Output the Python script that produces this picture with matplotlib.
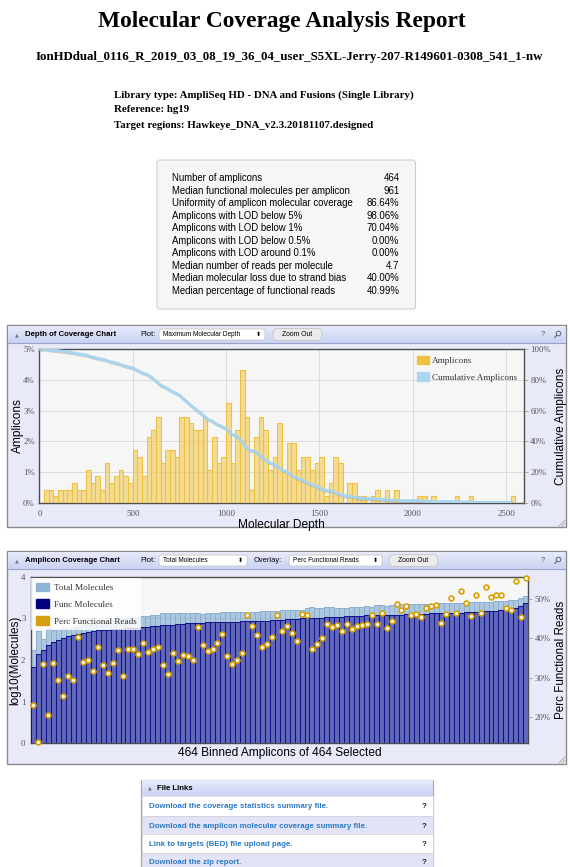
import numpy as np
import matplotlib.pyplot as plt
import matplotlib.patheffects as pe
from matplotlib.colors import LinearSegmentedColormap
from matplotlib.patches import Rectangle, FancyBboxPatch, Circle, Patch

W, H = 570, 867
SERIF = 'Liberation Serif'
SANS = 'Liberation Sans'

# ---------------- data ----------------
title = "Molecular Coverage Analysis Report"
run_name = "IonHDdual_0116_R_2019_03_08_19_36_04_user_S5XL-Jerry-207-R149601-0308_541_1-nw"
info_lines = ["Library type: AmpliSeq HD - DNA and Fusions (Single Library)",
              "Reference: hg19",
              "Target regions: Hawkeye_DNA_v2.3.20181107.designed"]

stat_labels = ["Number of amplicons",
               "Median functional molecules per amplicon",
               "Uniformity of amplicon molecular coverage",
               "Amplicons with LOD below 5%",
               "Amplicons with LOD below 1%",
               "Amplicons with LOD below 0.5%",
               "Amplicons with LOD around 0.1%",
               "Median number of reads per molecule",
               "Median molecular loss due to strand bias",
               "Median percentage of functional reads"]
stat_values = ["464", "961", "86.64%", "98.06%", "70.04%", "0.00%", "0.00%",
               "4.7", "40.00%", "40.99%"]

n_amplicons = 464
depth_bin = 25
# amplicons per 25-molecule depth bin, starting at depth 0
depth_counts = [0, 2, 2, 1, 2, 2, 2, 3, 2, 2,
                5, 3, 4, 2, 6, 3, 4, 5, 4, 3,
                8, 7, 4, 10, 11, 13, 6, 8, 8, 7,
                13, 13, 12, 11, 11, 13, 5, 10, 6, 7,
                15, 6, 11, 20, 13, 2, 10, 13, 11, 5,
                7, 12, 5, 9, 9, 5, 7, 7, 5, 6,
                7, 1, 3, 7, 6, 0, 3, 3, 1, 1,
                0, 1, 2, 0, 2, 0, 2, 0, 0, 0,
                0, 1, 1, 0, 1, 0, 0, 0, 0, 1,
                0, 0, 1, 0, 0, 0, 0, 0, 0, 0,
                0, 1]
depth_xticks = [0, 500, 1000, 1500, 2000, 2500]

# amplicon coverage chart: 100 bins of amplicons sorted by functional molecules
total_log = [2.25, 2.69, 2.51, 2.77, 2.73, 2.75, 2.78, 2.75, 2.79, 2.82,
             2.85, 2.87, 2.89, 2.91, 2.93, 2.95, 2.96, 2.98, 2.99, 3.00,
             3.02, 3.03, 3.06, 3.05, 3.08, 3.09, 3.13, 3.12, 3.14, 3.12,
             3.13, 3.13, 3.12, 3.13, 3.11, 3.12, 3.12, 3.12, 3.15, 3.15,
             3.15, 3.15, 3.15, 3.14, 3.16, 3.16, 3.17, 3.18, 3.17, 3.18,
             3.20, 3.21, 3.21, 3.21, 3.19, 3.24, 3.27, 3.26, 3.26, 3.27,
             3.28, 3.26, 3.26, 3.26, 3.27, 3.28, 3.28, 3.29, 3.28, 3.31,
             3.31, 3.29, 3.31, 3.33, 3.34, 3.34, 3.35, 3.34, 3.35, 3.35,
             3.35, 3.36, 3.36, 3.37, 3.37, 3.38, 3.37, 3.38, 3.39, 3.39,
             3.39, 3.40, 3.40, 3.41, 3.41, 3.42, 3.43, 3.45, 3.50, 3.54]
func_log = [1.82, 2.14, 2.25, 2.37, 2.43, 2.49, 2.53, 2.57, 2.60, 2.63,
            2.66, 2.68, 2.70, 2.71, 2.72, 2.73, 2.74, 2.74, 2.75, 2.76,
            2.77, 2.78, 2.79, 2.80, 2.81, 2.82, 2.83, 2.84, 2.85, 2.86,
            2.87, 2.88, 2.89, 2.90, 2.90, 2.905, 2.91, 2.91, 2.915, 2.92,
            2.92, 2.92, 2.925, 2.93, 2.93, 2.935, 2.94, 2.94, 2.95, 2.96,
            2.97, 2.98, 2.99, 2.99, 3.00, 3.00, 3.01, 3.02, 3.02, 3.03,
            3.03, 3.04, 3.04, 3.05, 3.05, 3.06, 3.06, 3.07, 3.07, 3.08,
            3.08, 3.08, 3.09, 3.09, 3.09, 3.10, 3.10, 3.10, 3.11, 3.11,
            3.12, 3.12, 3.12, 3.13, 3.13, 3.14, 3.14, 3.15, 3.15, 3.16,
            3.16, 3.17, 3.17, 3.18, 3.19, 3.21, 3.23, 3.26, 3.30, 3.36]
perc_func = [22.9, 13.5, 33.4, 20.5, 33.7, 29.5, 25.2, 30.3, 29.5, 40.3,
             33.9, 34.5, 31.7, 37.9, 33.3, 31.2, 33.7, 37.0, 30.3, 37.4,
             37.4, 36.0, 38.8, 36.5, 37.2, 37.8, 33.3, 31.0, 36.2, 34.2,
             35.8, 35.5, 34.5, 43.0, 38.4, 36.8, 37.2, 38.8, 41.2, 35.6,
             33.4, 34.4, 36.3, 46.1, 43.1, 40.9, 37.9, 38.7, 40.5, 45.9,
             41.9, 43.1, 41.4, 39.4, 46.3, 45.9, 37.4, 38.6, 40.0, 43.6,
             43.0, 43.5, 41.9, 43.6, 42.4, 43.3, 43.5, 43.7, 45.9, 43.6,
             46.5, 42.6, 44.5, 48.8, 47.2, 48.3, 45.9, 46.2, 45.5, 47.7,
             48.2, 48.5, 44.0, 46.2, 50.3, 46.5, 52.2, 49.2, 45.7, 51.2,
             46.4, 53.2, 50.5, 51.2, 51.0, 47.9, 47.3, 54.6, 45.4, 55.5]

file_links = ["Download the coverage statistics summary file.",
              "Download the amplicon molecular coverage summary file.",
              "Link to targets (BED) file upload page.",
              "Download the zip report."]

# ---------------- helpers ----------------
fig = plt.figure(figsize=(W / 100, H / 100), dpi=100)
bg = fig.add_axes([0, 0, 1, 1])
bg.set_xlim(0, W)
bg.set_ylim(H, 0)
bg.axis('off')

head_cmap = LinearSegmentedColormap.from_list('head', ['#e6eafb', '#cbd3f3'])
grad = np.linspace(0, 1, 20).reshape(-1, 1)


def px_axes(x0, y0, x1, y1):
    return fig.add_axes([x0 / W, 1 - y1 / H, (x1 - x0) / W, (y1 - y0) / H])


def panel_header(y0, y1, x0=7, x1=566):
    bg.add_patch(Rectangle((x0, y0), x1 - x0, y1 - y0, fc='#e8e9f9', ec='#8a8a8a', lw=1.0))
    bg.imshow(grad, extent=[x0 + 1, x1 - 1, y0 + 18, y0 + 1], cmap=head_cmap, aspect='auto', zorder=2)
    bg.plot([x0 + 1, x1 - 1], [y0 + 18, y0 + 18], color='#9aa3c8', lw=0.8, zorder=3)
    yc = y0 + 9.5
    bg.text(17, yc, '\u25b2', fontsize=3.5, color='#777', ha='center', va='center', family='DejaVu Sans', zorder=4)
    bg.text(543, yc, '?', fontsize=5.5, color='#555', ha='center', va='center', family=SANS, zorder=4)
    bg.add_patch(Circle((558.5, yc - 1), 2.3, fill=False, ec='#666', lw=0.7, zorder=4))
    bg.plot([556.8, 554.8], [yc + 0.8, yc + 3], color='#666', lw=0.8, zorder=4)
    for d in (3, 6):
        bg.plot([x1 - 1 - d, x1 - 1], [y1 - 1, y1 - 1 - d], color='#999', lw=0.5, zorder=4)
    return yc


def dropdown(x0, x1, yc, label):
    bg.add_patch(FancyBboxPatch((x0, yc - 5.5), x1 - x0, 11, boxstyle='round,pad=0,rounding_size=2.5',
                                fc='white', ec='#c8c8c8', lw=0.6, zorder=4))
    bg.text(x0 + 4, yc, label, fontsize=4.7, family=SANS, va='center', ha='left', zorder=5)
    bg.text(x1 - 4, yc, '\u2b0d', fontsize=4.5, family=['DejaVu Sans'], va='center', ha='right', zorder=5)


def button(x0, x1, yc, label):
    bg.add_patch(FancyBboxPatch((x0, yc - 6), x1 - x0, 12, boxstyle='round,pad=0,rounding_size=5',
                                fc='#ebebeb', ec='#c4c4c4', lw=0.6, zorder=4))
    bg.text((x0 + x1) / 2, yc, label, fontsize=4.9, family=SANS, va='center', ha='center', zorder=5)


# ---------------- header text ----------------
bg.text(282, 22, title, fontsize=16.8, weight='bold', family=SERIF, ha='center', va='center')
bg.text(289, 57, run_name, fontsize=9.3, weight='bold', family=SERIF, ha='center', va='center')
for i, line in enumerate(info_lines):
    bg.text(114, 95 + 15 * i, line, fontsize=7.85, weight='bold', family=SERIF, ha='left', va='center')

# ---------------- stats box ----------------
bg.add_patch(FancyBboxPatch((157, 160), 258.5, 149, boxstyle='round,pad=0,rounding_size=3',
                            fc='#f6f6f6', ec='#cfcfcf', lw=0.8))
for i, (lab, val) in enumerate(zip(stat_labels, stat_values)):
    y = 178.3 + 12.5 * i
    bg.text(172.3, y, lab, fontsize=6.95, family=SANS, ha='left', va='center')
    bg.text(399.5, y, val, fontsize=6.95, family=SANS, ha='right', va='center')

# ---------------- depth of coverage chart ----------------
yc = panel_header(325, 527)
bg.text(25, yc, 'Depth of Coverage Chart', fontsize=5.6, weight='bold', family=SANS, va='center', zorder=5)
bg.text(140, yc, 'Plot:', fontsize=5.4, family=SANS, va='center', zorder=5)
dropdown(159, 265, yc, 'Maximum Molecular Depth')
button(273, 322, yc, 'Zoom Out')

counts = np.array(depth_counts)
starts = np.arange(len(counts)) * depth_bin
pct = counts / n_amplicons * 100
cum = (n_amplicons - np.concatenate([[0], np.cumsum(counts)[:-1]])) / n_amplicons * 100

ax = px_axes(39.5, 349, 524, 503)
ax.set_facecolor('#f6f6f6')
ax.bar(starts + depth_bin / 2, pct, width=depth_bin, color=(0.95, 0.78, 0.28, 0.55),
       edgecolor='#eec140', lw=0.8, zorder=3)
ax.set_xlim(0, 2596)
ax.set_ylim(0, 5)
ax.set_yticks(range(6))
ax.set_yticklabels([f'{v}%' for v in range(6)])
ax.set_xticks(depth_xticks)
ax.grid(True, color='#dcdcdc', lw=0.7, zorder=0)
ax.set_axisbelow(True)
ax.tick_params(axis='y', length=0, pad=3.5, labelsize=6.3, labelcolor='#555')
ax.tick_params(axis='x', length=0, pad=5, labelsize=6.3, labelcolor='#555')
for lab in ax.get_xticklabels() + ax.get_yticklabels():
    lab.set_family(SERIF)
for s in ax.spines.values():
    s.set_color('#4d4d4d')
    s.set_linewidth(1.0)
ax.set_xlabel('Molecular Depth', fontsize=8.6, family=SANS, labelpad=1)
ax.set_ylabel('Amplicons', fontsize=8.6, family=SANS, labelpad=-1)

ax2 = ax.twinx()
ax2.plot(starts, cum, color='#a9d4ef', lw=2.1, zorder=4,
         path_effects=[pe.SimpleLineShadow(offset=(0.8, -0.8), shadow_color='#777', alpha=0.35), pe.Normal()])
ax2.set_ylim(0, 100)
ax2.set_yticks(range(0, 101, 20))
ax2.set_yticklabels([f'{v}%' for v in range(0, 101, 20)])
ax2.tick_params(axis='y', length=3, width=0.6, color='#999', pad=1.5, labelsize=6.3, labelcolor='#555')
for lab in ax2.get_yticklabels():
    lab.set_family(SERIF)
for s in ax2.spines.values():
    s.set_visible(False)
ax2.set_ylabel('Cumulative Amplicons', fontsize=8.6, family=SANS, labelpad=3)
ax2.legend(handles=[Patch(fc='#f0c040', ec='#f0c040'), Patch(fc='#aad6f2', ec='#aad6f2')],
           labels=['Amplicons', 'Cumulative Amplicons'], loc='upper left',
           bbox_to_anchor=(413 / W, 1 - 352 / H), bbox_transform=fig.transFigure,
           frameon=False, prop={'family': SERIF, 'size': 6.6}, handlelength=1.3, handleheight=1.1,
           handletextpad=0.4, labelspacing=0.75, borderaxespad=0, labelcolor='#333')

# ---------------- amplicon coverage chart ----------------
yc = panel_header(551, 764)
bg.text(25, yc, 'Amplicon Coverage Chart', fontsize=5.6, weight='bold', family=SANS, va='center', zorder=5)
bg.text(140, yc, 'Plot:', fontsize=5.4, family=SANS, va='center', zorder=5)
dropdown(159, 247, yc, 'Total Molecules')
bg.text(254, yc, 'Overlay:', fontsize=5.4, family=SANS, va='center', zorder=5)
dropdown(289, 382, yc, 'Perc Functional Reads')
button(389, 438, yc, 'Zoom Out')

k = np.arange(len(func_log))
ax3 = px_axes(31, 576.7, 528.3, 743.3)
ax3.set_facecolor('#f6f6f6')
ax3.bar(k, total_log, width=1.0, color=(0.63, 0.75, 0.86, 0.85), edgecolor='#8aaed2', lw=0.7, zorder=2)
ax3.bar(k, func_log, width=1.0, color='#6168b8', edgecolor='#12128a', lw=0.75, zorder=3)
ax3.set_xlim(-0.5, len(k) - 0.5)
ax3.set_ylim(0, 4)
ax3.set_yticks(range(5))
ax3.set_xticks([])
ax3.grid(True, axis='y', color='#9a9a9a', lw=0.6, zorder=4)
ax3.tick_params(axis='y', length=0, pad=4, labelsize=6.3, labelcolor='#555')
for lab in ax3.get_yticklabels():
    lab.set_family(SERIF)
for s in ax3.spines.values():
    s.set_color('#4d4d4d')
    s.set_linewidth(1.0)
ax3.set_ylabel('log10(Molecules)', fontsize=8.4, family=SANS, labelpad=0)
ax3.set_xlabel('464 Binned Amplicons of 464 Selected', fontsize=8.6, family=SANS, labelpad=3)

ax4 = ax3.twinx()
ax4.scatter(k, perc_func, s=12, facecolor='white', edgecolor='#d9a000', lw=1.2, zorder=5, clip_on=False)
ax4.set_ylim(13.2, 55.8)
ax4.set_yticks([20, 30, 40, 50])
ax4.set_yticklabels(['20%', '30%', '40%', '50%'])
ax4.tick_params(axis='y', length=3, width=0.6, color='#999', pad=1.5, labelsize=6.3, labelcolor='#555')
for lab in ax4.get_yticklabels():
    lab.set_family(SERIF)
for s in ax4.spines.values():
    s.set_visible(False)
ax4.set_ylabel('Perc Functional Reads', fontsize=8.4, family=SANS, labelpad=3)
leg = ax4.legend(handles=[Patch(fc='#8fb3d5', ec='#8fb3d5'), Patch(fc='#000080', ec='#000080'),
                          Patch(fc='#d4a010', ec='#d4a010')],
                 labels=['Total Molecules', 'Func Molecules', 'Perc Functional Reads'],
                 loc='upper left', bbox_to_anchor=(31 / W, 1 - 578 / H), bbox_transform=fig.transFigure,
                 frameon=True, fancybox=False, framealpha=0.8, facecolor='white', edgecolor='none',
                 prop={'family': SERIF, 'size': 6.6}, handlelength=1.5, handleheight=1.1,
                 handletextpad=0.5, labelspacing=0.8, borderaxespad=0, borderpad=0.5, labelcolor='#333')
leg.set_zorder(10)

# ---------------- file links ----------------
bg.add_patch(Rectangle((141, 780), 292, 90, fc='white', ec='#a8a8a8', lw=0.9))
bg.imshow(grad, extent=[141.5, 432.5, 796, 780.5], aspect='auto', zorder=2, cmap=head_cmap)
bg.text(150, 788, '\u25b2', fontsize=3.5, color='#777', ha='center', va='center', family='DejaVu Sans', zorder=4)
bg.text(157, 788, 'File Links', fontsize=5.6, weight='bold', family=SANS, va='center', zorder=4)
row_edges = [796, 816, 834, 853, 871]
for i, text in enumerate(file_links):
    y0, y1 = row_edges[i], row_edges[i + 1]
    bg.add_patch(Rectangle((141.5, y0), 291, y1 - y0, fc='white' if i % 2 == 0 else '#e3e3f7',
                           ec='#d0d0d8', lw=0.5, zorder=2))
    bg.text(149, (y0 + y1) / 2 + 1, text, fontsize=5.7, weight='bold', color='#2b7bc4', family=SANS,
            va='center', zorder=4)
    bg.text(424, (y0 + y1) / 2 + 1, '?', fontsize=5.7, weight='bold', color='#222', family=SANS,
            va='center', ha='center', zorder=4)

fig.savefig('out.png', dpi=100)
